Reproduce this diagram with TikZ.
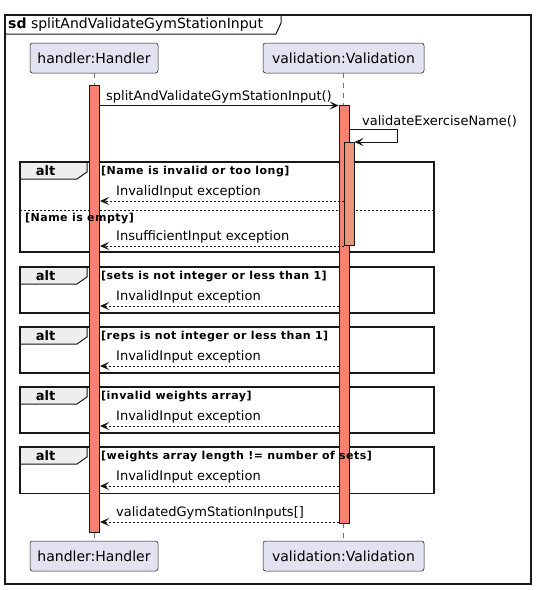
\documentclass[tikz,border=0pt]{standalone}
\usepackage{fontspec}
\setmainfont{DejaVu Sans}
\newfontfamily\guardfont{DejaVu Sans}[LetterSpace=4.4]
\usetikzlibrary{arrows.meta}
\definecolor{partfill}{HTML}{E2E2F0}
\definecolor{actfill}{HTML}{FA8072}
\definecolor{actfilltwo}{HTML}{E9967A}
\definecolor{tabfill}{HTML}{EEEEEE}
\definecolor{ink}{HTML}{181818}
\newcommand{\altfrag}[3]{%
  \fill[tabfill] (20,#2) -- (87,#2) -- (87,#2+10) -- (77,#2+17) -- (20,#2+17) -- cycle;
  \draw[ink, line width=1pt] (20,#2+17) -- (77,#2+17) -- (87,#2+10) -- (87,#2);
  \draw[altbox] (20,#2) rectangle (434,#3);
  \node[altlabel] (#1) at (45.5,#2+13.5) {alt};
}
\tikzset{
  participant/.style={draw=ink, line width=0.5pt, fill=partfill, rounded corners=2.5pt,
    minimum height=30pt, inner sep=0pt, font=\fontsize{14}{16}\selectfont},
  actbar/.style={draw=ink, line width=1pt, fill=actfill, inner sep=0pt, minimum width=10pt},
  msg/.style={draw=ink, line width=1pt, -{Stealth[length=9pt,width=8pt,inset=4pt]}},
  ret/.style={msg, dash pattern=on 2pt off 2pt},
  msglabel/.style={anchor=base west, inner sep=0pt, font=\fontsize{13}{15}\selectfont},
  guard/.style={anchor=base west, inner sep=0pt, font=\guardfont\bfseries\fontsize{11}{13}\selectfont},
  altlabel/.style={anchor=base, inner sep=0pt, font=\bfseries\fontsize{13}{15}\selectfont},
  altbox/.style={draw=ink, line width=1.5pt},
  lifeline/.style={draw=black!55, line width=0.5pt, dash pattern=on 5pt off 5pt},
  framebox/.style={draw=ink, line width=1.5pt},
}
\begin{document}
\begin{tikzpicture}[x=1pt,y=-1pt]
\useasboundingbox (0,0) rectangle (536,590);
\fill[white] (0,0) rectangle (536,590);
% frame
\draw[framebox] (5,15) rectangle (531,584);
\draw[ink, line width=1pt] (5,34) -- (276,34) -- (281,23) -- (281,15);
\node[anchor=base west, inner sep=0pt, font=\fontsize{14}{16}\selectfont] (title) at (8,28) {\textbf{sd} splitAndValidateGymStationInput};
% participants
\node[participant, minimum width=128pt] (ht) at (94,58) {handler:Handler};
\node[participant, minimum width=161pt] (vt) at (343.5,58) {validation:Validation};
\node[participant, minimum width=128pt] (hb) at (94,556) {handler:Handler};
\node[participant, minimum width=161pt] (vb) at (343.5,556) {validation:Validation};
% lifelines
\draw[lifeline] (ht.south) -- (hb.north);
\draw[lifeline] (vt.south) -- (vb.north);
% alt fragments
\altfrag{alta}{162}{252}
\draw[ink, line width=1pt, dash pattern=on 2pt off 2pt] (20,210) -- (434,210);
\altfrag{altb}{267}{313}
\altfrag{altc}{327}{373}
\altfrag{altd}{387}{433}
\altfrag{alte}{447}{493.5}
% activation bars
\node[actbar, minimum height=447pt] (ha) at (94.5,308.5) {};
\node[actbar, minimum height=418pt] (va) at (344.2,314) {};
\node[actbar, fill=actfilltwo, minimum height=103pt] (vn) at (349,193.5) {};
% guards
\node[guard] (ga1) at (101,174.5) {[Name is invalid or too long]};
\node[guard] (ga2) at (25,221) {[Name is empty]};
\node[guard] (gb) at (101,279.5) {[sets is not integer or less than 1]};
\node[guard] (gc) at (101,339.5) {[reps is not integer or less than 1]};
\node[guard] (gd) at (101,399.5) {[invalid weights array]};
\node[guard] (ge) at (101,459.5) {[weights array length != number of sets]};
% messages
\draw[msg] (ha.east |- 0,105.5) -- (va.west |- 0,105.5);
\node[msglabel] (l1) at (106,100) {splitAndValidateGymStationInput()};
\coordinate (selfa) at (397,129);
\coordinate (selfb) at (397,142);
\draw[msg] (va.east |- selfa) -- (selfa) -- (selfb) -- (vn.east |- selfb);
\node[msglabel] (l2) at (362,125) {validateExerciseName()};
\draw[ret] (vn.west |- 0,201) -- (ha.east |- 0,201);
\node[msglabel] (l3) at (116,195.5) {InvalidInput exception};
\draw[ret] (vn.west |- 0,246) -- (ha.east |- 0,246);
\node[msglabel] (l4) at (116,240.5) {InsufficientInput exception};
\draw[ret] (va.west |- 0,306) -- (ha.east |- 0,306);
\node[msglabel] (l5) at (116,300.5) {InvalidInput exception};
\draw[ret] (va.west |- 0,366) -- (ha.east |- 0,366);
\node[msglabel] (l6) at (116,360.5) {InvalidInput exception};
\draw[ret] (va.west |- 0,426) -- (ha.east |- 0,426);
\node[msglabel] (l7) at (116,420.5) {InvalidInput exception};
\draw[ret] (va.west |- 0,486) -- (ha.east |- 0,486);
\node[msglabel] (l8) at (116,480.5) {InvalidInput exception};
\draw[ret] (va.west |- 0,522) -- (ha.east |- 0,522);
\node[msglabel] (l9) at (116,516.5) {validatedGymStationInputs[]};
\end{tikzpicture}
\end{document}
